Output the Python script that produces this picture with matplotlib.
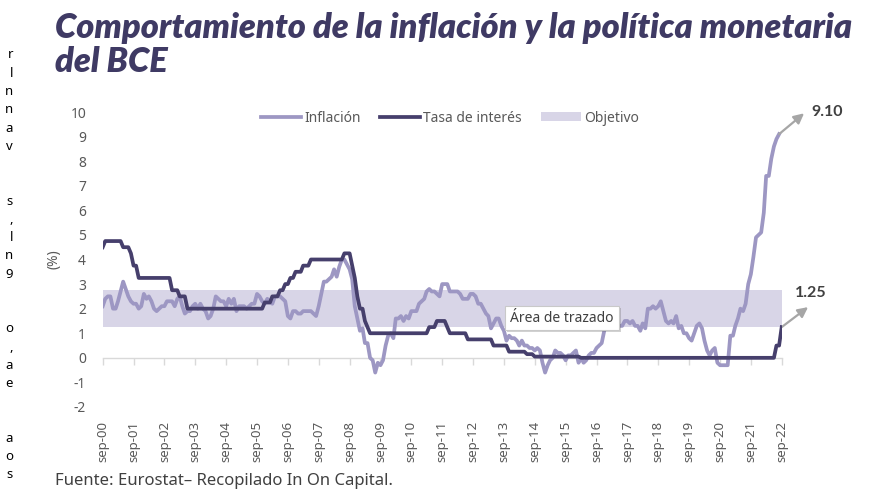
import matplotlib
matplotlib.use("Agg")
import matplotlib.pyplot as plt
import matplotlib.patheffects as pe
from matplotlib.lines import Line2D
from matplotlib.patches import Patch
import pandas as pd

# Inflación interanual zona euro (%), mensual sep-2000 ... ago-2022
inflacion = [
    2.1, 2.4, 2.5, 2.5,                                          # 2000 (sep-dic)
    2.0, 2.0, 2.3, 2.7, 3.1, 2.8, 2.5, 2.3, 2.2, 2.2, 2.0, 2.1,  # 2001
    2.6, 2.4, 2.5, 2.3, 2.0, 1.9, 2.0, 2.1, 2.1, 2.3, 2.3, 2.3,  # 2002
    2.1, 2.4, 2.5, 2.1, 1.8, 1.9, 1.9, 2.1, 2.2, 2.0, 2.2, 2.0,  # 2003
    1.9, 1.6, 1.7, 2.0, 2.5, 2.4, 2.3, 2.3, 2.1, 2.4, 2.2, 2.4,  # 2004
    1.9, 2.1, 2.1, 2.1, 2.0, 2.1, 2.2, 2.2, 2.6, 2.5, 2.3, 2.2,  # 2005
    2.4, 2.3, 2.2, 2.5, 2.5, 2.5, 2.4, 2.3, 1.7, 1.6, 1.9, 1.9,  # 2006
    1.8, 1.8, 1.9, 1.9, 1.9, 1.9, 1.8, 1.7, 2.1, 2.6, 3.1, 3.1,  # 2007
    3.2, 3.3, 3.6, 3.3, 3.7, 4.0, 4.0, 3.8, 3.6, 3.2, 2.1, 1.6,  # 2008
    1.1, 1.2, 0.6, 0.6, 0.0, -0.1, -0.6, -0.2, -0.3, -0.1, 0.5, 0.9,  # 2009
    1.0, 0.8, 1.6, 1.6, 1.7, 1.5, 1.7, 1.6, 1.9, 1.9, 1.9, 2.2,  # 2010
    2.3, 2.4, 2.7, 2.8, 2.7, 2.7, 2.6, 2.5, 3.0, 3.0, 3.0, 2.7,  # 2011
    2.7, 2.7, 2.7, 2.6, 2.4, 2.4, 2.4, 2.6, 2.6, 2.5, 2.2, 2.2,  # 2012
    2.0, 1.8, 1.7, 1.2, 1.4, 1.6, 1.6, 1.3, 1.1, 0.7, 0.9, 0.8,  # 2013
    0.8, 0.7, 0.5, 0.7, 0.5, 0.5, 0.4, 0.4, 0.3, 0.4, 0.3, -0.2,  # 2014
    -0.6, -0.3, -0.1, 0.0, 0.3, 0.2, 0.2, 0.1, -0.1, 0.1, 0.1, 0.2,  # 2015
    0.3, -0.2, 0.0, -0.2, -0.1, 0.1, 0.2, 0.2, 0.4, 0.5, 0.6, 1.1,  # 2016
    1.7, 2.0, 1.5, 1.9, 1.4, 1.3, 1.3, 1.5, 1.5, 1.4, 1.5, 1.3,  # 2017
    1.3, 1.1, 1.4, 1.2, 2.0, 2.0, 2.1, 2.0, 2.1, 2.3, 1.9, 1.5,  # 2018
    1.4, 1.5, 1.4, 1.7, 1.2, 1.3, 1.0, 1.0, 0.8, 0.7, 1.0, 1.3,  # 2019
    1.4, 1.2, 0.7, 0.3, 0.1, 0.3, 0.4, -0.2, -0.3, -0.3, -0.3, -0.3,  # 2020
    0.9, 0.9, 1.3, 1.6, 2.0, 1.9, 2.2, 3.0, 3.4, 4.1, 4.9, 5.0,  # 2021
    5.1, 5.9, 7.4, 7.4, 8.1, 8.6, 8.9, 9.1,                      # 2022 (ene-ago)
]

# Tipo de las operaciones principales de financiación del BCE (%), sep-2000 ... sep-2022
tasa_interes = (
    [4.50, 4.75, 4.75, 4.75]                                                    # 2000
    + [4.75, 4.75, 4.75, 4.75, 4.50, 4.50, 4.50, 4.25, 3.75, 3.75, 3.25, 3.25]  # 2001
    + [3.25] * 11 + [2.75]                                                      # 2002
    + [2.75, 2.75, 2.50, 2.50, 2.50] + [2.00] * 7                               # 2003
    + [2.00] * 12                                                               # 2004
    + [2.00] * 11 + [2.25]                                                      # 2005
    + [2.25, 2.25, 2.50, 2.50, 2.50, 2.75, 2.75, 3.00, 3.00, 3.25, 3.25, 3.50]  # 2006
    + [3.50, 3.50, 3.75, 3.75, 3.75] + [4.00] * 7                               # 2007
    + [4.00] * 6 + [4.25, 4.25, 4.25, 3.75, 3.25, 2.50]                         # 2008
    + [2.00, 2.00, 1.50, 1.25] + [1.00] * 8                                     # 2009
    + [1.00] * 12                                                               # 2010
    + [1.00, 1.00, 1.00, 1.25, 1.25, 1.25, 1.50, 1.50, 1.50, 1.50, 1.25, 1.00]  # 2011
    + [1.00] * 6 + [0.75] * 6                                                   # 2012
    + [0.75] * 4 + [0.50] * 6 + [0.25] * 2                                      # 2013
    + [0.25] * 5 + [0.15] * 3 + [0.05] * 4                                      # 2014
    + [0.05] * 12                                                               # 2015
    + [0.05, 0.05] + [0.00] * 10                                                # 2016
    + [0.00] * 12 * 5                                                           # 2017-2021
    + [0.00] * 6 + [0.50, 0.50, 1.25]                                           # 2022
)

# Banda del objetivo de inflación (%)
objetivo_inf = 1.25
objetivo_sup = 2.75

etiquetas_x = ['sep-00', 'sep-01', 'sep-02', 'sep-03', 'sep-04', 'sep-05', 'sep-06',
               'sep-07', 'sep-08', 'sep-09', 'sep-10', 'sep-11', 'sep-12', 'sep-13',
               'sep-14', 'sep-15', 'sep-16', 'sep-17', 'sep-18', 'sep-19', 'sep-20',
               'sep-21', 'sep-22']
valores_y = [-2, -1, 0, 1, 2, 3, 4, 5, 6, 7, 8, 9, 10]

# texto cortado del margen izquierdo (una letra por renglón)
margen = ['r', 'l', 'n', 'n', 'a', 'v', '', '', 's', ',', 'l', 'n', '9', '', '',
          'o', ',', 'a', 'e', '', '', 'a', 'o', 's']

fechas = pd.date_range('2000-09-01', periods=len(tasa_interes), freq='MS')
fechas_inf = fechas[:len(inflacion)]
ticks_x = pd.date_range('2000-09-01', periods=len(etiquetas_x), freq='12MS')

c_inf = '#9d97c3'
c_tasa = '#463f6c'
c_obj = '#d8d5e7'
c_titulo = '#3f3a64'
c_gris = '#595959'
c_texto = '#404040'
fuente = ['Noto Sans', 'DejaVu Sans']
fuente_negrita = ['Lato', 'DejaVu Sans']

W, H = 877, 490
def fx(px):
    return px / W
def fy(py):
    return 1 - py / H

fig = plt.figure(figsize=(W / 100, H / 100), dpi=100)
ax = fig.add_axes([fx(102.7), fy(407), (781.7 - 102.7) / W, (407 - 112) / H])

ax.fill_between(fechas, objetivo_inf, objetivo_sup, color=c_obj, lw=0, zorder=1)
ax.plot(fechas_inf, inflacion, color=c_inf, lw=2.7, zorder=3)
ax.plot(fechas, tasa_interes, color=c_tasa, lw=2.7, zorder=4)

ax.set_xlim(fechas[0], fechas[-1])
ax.set_ylim(-2, 10)
for s in ax.spines.values():
    s.set_visible(False)

ax.set_yticks(valores_y)
ax.set_yticklabels([str(v) for v in valores_y], family=fuente, fontsize=10, color=c_gris)
ax.tick_params(axis='y', length=0, pad=12)

ax.set_xticks(ticks_x)
ax.set_xticklabels(etiquetas_x, rotation=90, family=fuente, fontsize=9.5, color=c_gris)
ax.tick_params(axis='x', length=0, pad=10)

# eje horizontal en cero con marcas
eje0 = ax.secondary_xaxis(2 / 12)
eje0.set_xticks(ticks_x)
eje0.tick_params(axis='x', direction='out', length=5, color='#d9d9d9', width=1, labelbottom=False)
eje0.spines['bottom'].set_color('#d9d9d9')
eje0.spines['bottom'].set_linewidth(1)

ax.set_ylabel('(%)', family=fuente, fontsize=10, color=c_gris, labelpad=6)

# anotaciones de los últimos valores
flecha = dict(arrowstyle='<|-,head_length=0.6,head_width=0.3', color='#a6a6a6', lw=1.6,
              shrinkA=0, shrinkB=0)
ax.annotate('', xy=(fechas_inf[-1], inflacion[-1]), xytext=(18, 15),
            textcoords='offset points', arrowprops=flecha, annotation_clip=False)
ax.annotate(f'{inflacion[-1]:.2f}', xy=(fechas_inf[-1], inflacion[-1]), xytext=(23, 15.6),
            textcoords='offset points', va='center', ha='left', family=fuente_negrita,
            fontsize=11.5, fontweight='bold', color=c_texto, annotation_clip=False)
ax.annotate('', xy=(fechas[-1], tasa_interes[-1]), xytext=(19, 14.4),
            textcoords='offset points', arrowprops=flecha, annotation_clip=False)
ax.annotate(f'{tasa_interes[-1]:.2f}', xy=(fechas[-1], tasa_interes[-1]), xytext=(9.6, 24.5),
            textcoords='offset points', va='center', ha='left', family=fuente_negrita,
            fontsize=11.5, fontweight='bold', color=c_texto, annotation_clip=False)

# leyenda
handles = [Line2D([], [], color=c_inf, lw=2.7),
           Line2D([], [], color=c_tasa, lw=2.7),
           Patch(facecolor=c_obj, edgecolor='none')]
fig.legend(handles, ['Inflación', 'Tasa de interés', 'Objetivo'], loc='center',
           bbox_to_anchor=(fx(450), fy(118)), ncol=3, frameon=False,
           prop={'family': fuente, 'size': 10}, labelcolor=c_gris,
           handlelength=2.9, handletextpad=0.2, columnspacing=1.4)

# etiqueta emergente "Área de trazado"
tip = fig.text(fx(562), fy(318), 'Área de trazado', ha='center', va='center',
               family=fuente, fontsize=10, color=c_texto, zorder=10,
               bbox=dict(boxstyle='square,pad=0.35', fc='white', ec='#c9c9c9', lw=0.8))
tip.get_bbox_patch().set_path_effects([pe.SimplePatchShadow(offset=(1.5, -1.5), alpha=0.25),
                                       pe.Normal()])

# título en dos líneas, ajustado al ancho
fam_titulo = ['Lato', 'DejaVu Sans']
t1 = fig.text(fx(55), fy(38), 'Comportamiento de la inflación y la política monetaria',
              fontsize=26, fontweight='heavy', fontstyle='italic', color=c_titulo,
              family=fam_titulo, va='baseline')
t2 = fig.text(fx(55), fy(72), 'del BCE', fontsize=26, fontweight='heavy',
              fontstyle='italic', color=c_titulo, family=fam_titulo, va='baseline')
fig.canvas.draw()
ancho = t1.get_window_extent().width
t1.set_fontsize(26 * 798 / ancho)
t2.set_fontsize(26 * 798 / ancho)

fig.text(fx(55), fy(481), 'Fuente: Eurostat– Recopilado In On Capital.', ha='left',
         va='center', family=fuente, fontsize=12, color=c_texto)

for i, letra in enumerate(margen):
    if letra:
        fig.text(fx(13), fy(55 + i * 18.25), letra, ha='right', va='center',
                 family=fuente, fontsize=9.5, color='black')

fig.savefig('out.png', dpi=100)
